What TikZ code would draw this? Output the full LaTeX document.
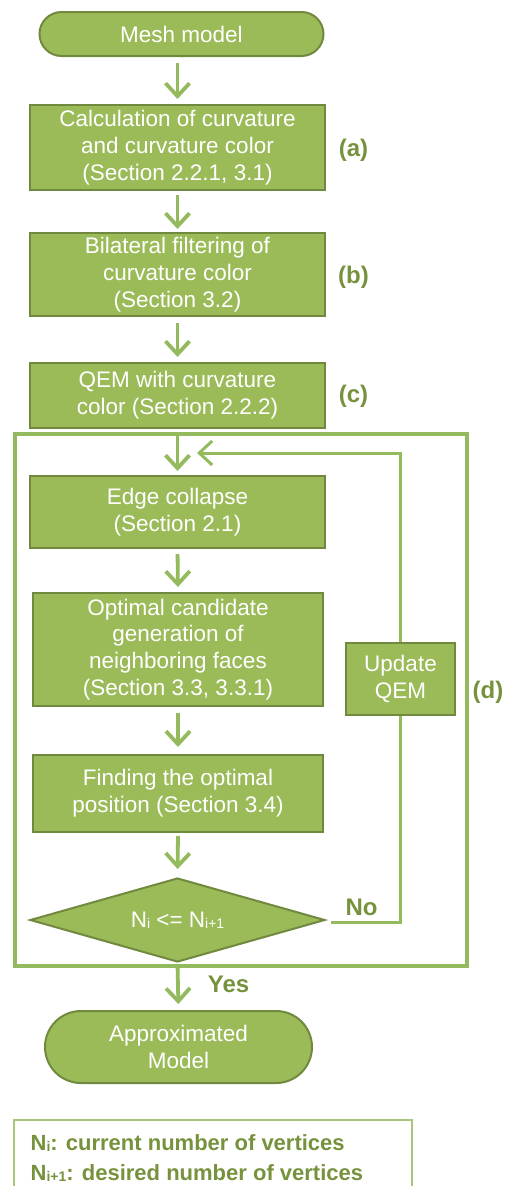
\documentclass[tikz,border=0pt]{standalone}
\usepackage{fontspec}
\setmainfont{Liberation Sans}
\usetikzlibrary{arrows.meta,shapes.geometric,shapes.misc}
\definecolor{gfill}{HTML}{9BBB59}
\definecolor{gborder}{HTML}{71893F}
\definecolor{gline}{HTML}{93BB5E}
\definecolor{glabel}{HTML}{76923C}
\definecolor{glegend}{HTML}{A9C47F}
\newcommand\sbs[1]{\raisebox{-1pt}{\fontsize{14}{14}\selectfont #1}}
\begin{document}
\begin{tikzpicture}[x=1pt,y=-1pt,
  proc/.style={draw=gborder, line width=2pt, fill=gfill, text=white, align=center,
    font=\fontsize{22.5}{26.7}\selectfont, inner sep=0pt, rectangle},
  term/.style={proc, rounded rectangle},
  dec/.style={proc, diamond, aspect=3.5},
  flow/.style={draw=gline, line width=3.8pt, -{Straight Barb[length=13pt,width=24pt]}},
  loopline/.style={draw=gline, line width=3pt},
  lbl/.style={text=glabel, font=\bfseries\fontsize{24}{28}\selectfont, inner sep=0pt},
  legtext/.style={text=glabel, font=\bfseries\fontsize{22}{26}\selectfont, inner sep=0pt, anchor=west}
]
\useasboundingbox (0,0) rectangle (511,1186);

% frame of the loop
\node[draw=gline, line width=3.5pt, minimum width=452pt, minimum height=532pt, inner sep=0pt] (frame) at (241,700) {};

\node[term, minimum width=284pt, minimum height=44pt] (mesh) at (181.5,34) {Mesh model};
\node[proc, minimum width=295pt, minimum height=85pt] (a) at (177.5,147.5) {Calculation of curvature\\and curvature color\\(Section 2.2.1, 3.1)};
\node[proc, minimum width=295pt, minimum height=83pt] (b) at (177.5,274.5) {Bilateral filtering of\\curvature color\\(Section 3.2)};
\node[proc, minimum width=295pt, minimum height=65pt] (c) at (177.5,395.5) {QEM with curvature\\color (Section 2.2.2)};
\node[proc, minimum width=295pt, minimum height=72pt] (edge) at (177.5,512) {Edge collapse\\(Section 2.1)};
\node[proc, minimum width=290pt, minimum height=113pt] (opt) at (178,649.5) {Optimal candidate\\generation of\\neighboring faces\\(Section 3.3, 3.3.1)};
\node[proc, minimum width=109pt, minimum height=72pt] (upd) at (400.5,679) {Update\\QEM};
\node[proc, minimum width=290pt, minimum height=77pt] (find) at (178,793.5) {Finding the optimal\\position (Section 3.4)};
\node[dec, minimum width=295pt, minimum height=84pt] (dia) at (177.5,920) {N\sbs{i} <= N\sbs{i+1}};
\node[term, minimum width=267pt, minimum height=72pt] (approx) at (178.5,1047) {Approximated\\Model};

% side labels
\node[lbl] (la) at (353.5,150) {(a)};
\node[lbl] (lb) at (353.5,277) {(b)};
\node[lbl] (lc) at (353.5,396) {(c)};
\node[lbl] (ld) at (488,692) {(d)};

% main flow
\draw[flow, shorten <=6pt, shorten >=5pt] (a.north |- mesh.south) -- (a.north);
\draw[flow, shorten <=4pt, shorten >=3pt] (a.south) -- (b.north);
\draw[flow, shorten <=6pt, shorten >=5pt] (b.south) -- (c.north);
\draw[flow, shorten <=6pt, shorten >=4pt] (c.south) -- (edge.north);
\draw[flow, shorten <=5pt, shorten >=5pt] (edge.south) -- (opt.north);
\draw[flow, shorten <=6pt, shorten >=7pt] (opt.south) -- (find.north);
\draw[flow, shorten <=3pt, shorten >=8pt] (find.south) -- (dia.north);
\draw[flow, shorten <=4pt, shorten >=6pt] (dia.south) -- (approx.north)
  node[pos=0.45, right=28pt, lbl] (yes) {Yes};

% loop back
\coordinate (fbend) at (197,453);
\coordinate (nostart) at (331,922);
\draw[loopline, -{Straight Barb[length=13pt,width=24pt]}] (upd.north) |- (fbend);
\draw[loopline] (nostart) -| (upd.south);
\node[lbl] (no) at (361.5,907) {No};

% legend
\coordinate (lgA) at (14,1195);
\coordinate (lgB) at (14,1120);
\coordinate (lgC) at (412,1120);
\coordinate (lgD) at (412,1195);
\draw[glegend, line width=1.5pt] (lgA) -- (lgB) -- (lgC) -- (lgD);
\node[legtext] (l1) at (30.5,1143) {N\sbs{i}: current number of vertices};
\node[legtext] (l2) at (30.5,1173) {N\sbs{i+1}: desired number of vertices};
\end{tikzpicture}
\end{document}
